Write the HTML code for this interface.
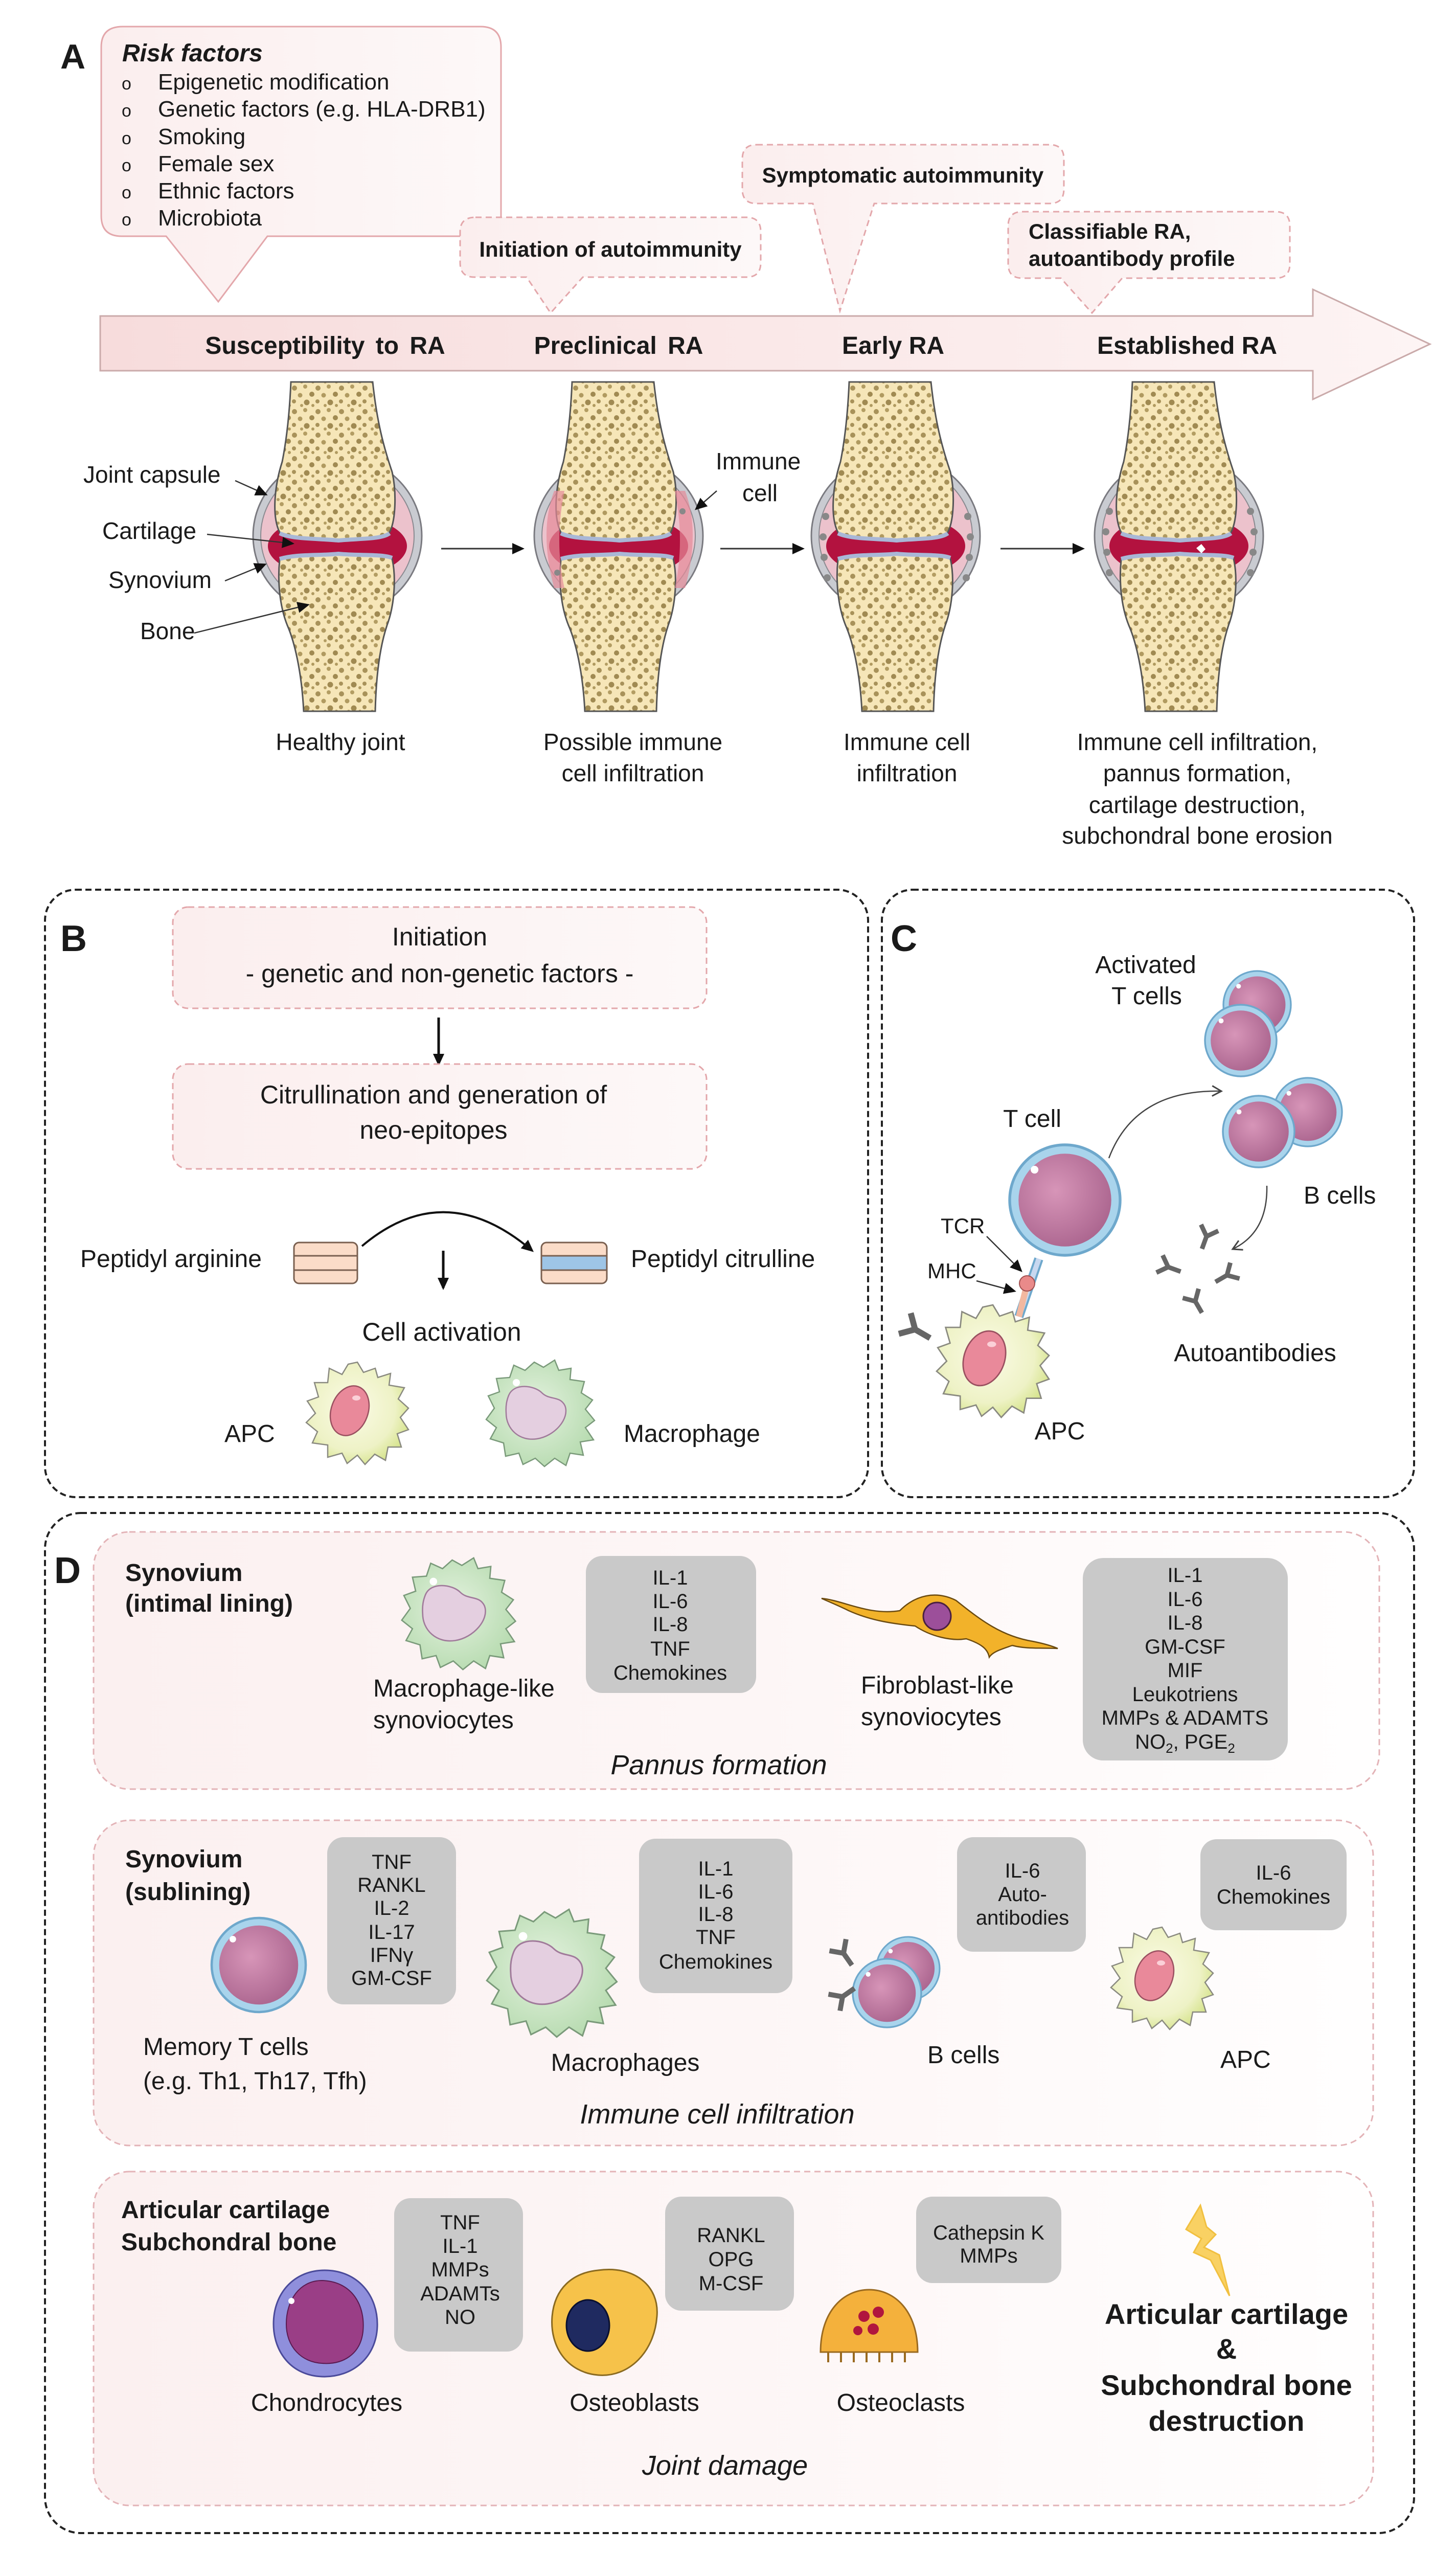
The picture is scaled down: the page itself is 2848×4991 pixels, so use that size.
<!DOCTYPE html>
<html><head><meta charset="utf-8"><style>
html,body{margin:0;padding:0;background:#fff}
svg{display:block}
text{font-family:"Liberation Sans",Arial,sans-serif;fill:#1a1a1a}
.b{font-weight:bold}
.g{font-size:40px;fill:#2a2a2a}
</style></head><body>
<svg width="2848" height="4991" viewBox="0 0 2848 4991" xmlns="http://www.w3.org/2000/svg">
<defs>
<pattern id="st" width="46" height="46" patternUnits="userSpaceOnUse">
<rect width="46" height="46" fill="#f6e6b8"/>
<circle cx="6" cy="8" r="5" fill="#a8925a"/><circle cx="27" cy="5" r="4" fill="#b39d63"/>
<circle cx="40" cy="20" r="5" fill="#a08a52"/><circle cx="17" cy="22" r="4.5" fill="#b09a60"/>
<circle cx="5" cy="34" r="4" fill="#a8925a"/><circle cx="30" cy="36" r="5.5" fill="#a08a52"/>
<circle cx="20" cy="42" r="3" fill="#b39d63"/><circle cx="42" cy="42" r="3" fill="#b09a60"/>
</pattern>
<linearGradient id="arr" x1="0" x2="1"><stop offset="0" stop-color="#f7dcdc"/><stop offset="1" stop-color="#fdf4f4"/></linearGradient>
<linearGradient id="pk" x1="0" x2="1"><stop offset="0" stop-color="#fbeeee"/><stop offset="1" stop-color="#fdf8f8"/></linearGradient>
<linearGradient id="sub" x1="0" x2="1"><stop offset="0" stop-color="#fbf0f0"/><stop offset="0.5" stop-color="#fdf6f6"/><stop offset="1" stop-color="#fffefe"/></linearGradient>
<radialGradient id="nuc" cx="0.4" cy="0.4" r="0.7"><stop offset="0" stop-color="#d795b8"/><stop offset="1" stop-color="#a8628c"/></radialGradient>
<radialGradient id="apcg" cx="0.45" cy="0.45" r="0.6"><stop offset="0" stop-color="#fbfbe6"/><stop offset="0.7" stop-color="#eef2c6"/><stop offset="1" stop-color="#d5e38a"/></radialGradient>
<radialGradient id="macg" cx="0.45" cy="0.45" r="0.6"><stop offset="0" stop-color="#e4f2df"/><stop offset="1" stop-color="#b7dbb0"/></radialGradient>
<marker id="ah" markerWidth="10" markerHeight="10" refX="8" refY="5" orient="auto" markerUnits="userSpaceOnUse" viewBox="0 0 10 10"><path d="M0,0 L10,5 L0,10 z" fill="#222"/></marker>
<marker id="ahb" markerWidth="26" markerHeight="26" refX="20" refY="13" orient="auto" markerUnits="userSpaceOnUse"><path d="M0,2 L24,13 L0,24 z" fill="#111"/></marker>
<marker id="aho" markerWidth="26" markerHeight="26" refX="22" refY="13" orient="auto" markerUnits="userSpaceOnUse"><path d="M4,3 L22,13 L4,23" fill="none" stroke="#444" stroke-width="3"/></marker>

<g id="joint">
<ellipse cx="-2" cy="-25" rx="165" ry="158" fill="#c9cbd1" stroke="#7a7a80" stroke-width="3"/>
<ellipse cx="-2" cy="-25" rx="150" ry="142" fill="#ecc2cc" stroke="#8a8a90" stroke-width="2"/>
<ellipse cx="-2" cy="-5" rx="136" ry="62" fill="#b3123f"/>
<path d="M-93,-326 L67,-326 C75,-250 88,-200 105,-150 C114,-110 112,-55 100,-32 C85,-20 40,-22 0,-18 C-40,-22 -90,-20 -115,-32 C-130,-62 -126,-120 -110,-170 C-100,-220 -95,-280 -93,-326 Z" fill="url(#st)" stroke="#555" stroke-width="3"/>
<path d="M-115,-30 C-90,-18 -40,-20 0,-16 C40,-20 85,-18 100,-30" fill="none" stroke="#a9b7d6" stroke-width="8"/>
<path d="M-115,22 C-80,12 -40,16 0,12 C40,16 85,12 105,20 C113,55 110,110 95,150 C85,180 74,230 72,318 L-68,318 C-72,240 -86,182 -100,150 C-116,110 -119,60 -115,22 Z" fill="url(#st)" stroke="#555" stroke-width="3"/>
<path d="M-115,20 C-80,10 -40,14 0,10 C40,14 85,10 105,18" fill="none" stroke="#a9b7d6" stroke-width="8"/>
</g>

<g id="rcell">
<circle r="1" fill="#a9d4ec" stroke="#6ea8cc" stroke-width="0.05"/>
<circle r="0.84" fill="url(#nuc)"/>
<circle cx="-0.55" cy="-0.55" r="0.07" fill="#fff"/>
</g>

<g id="apc">
<path d="M0,-100 L12,-80 L35,-88 L40,-70 L65,-78 L62,-55 L92,-50 L80,-28 L100,-10 L84,8 L100,32 L78,40 L86,66 L60,66 L55,92 L34,80 L15,100 L0,82 L-20,98 L-30,78 L-58,86 L-58,62 L-88,58 L-78,36 L-100,18 L-82,0 L-98,-24 L-76,-32 L-84,-60 L-58,-60 L-55,-88 L-30,-76 L-18,-96 Z" fill="url(#apcg)" stroke="#8a8a80" stroke-width="2.5"/>
<ellipse cx="-15" cy="-5" rx="36" ry="50" transform="rotate(20 -15 -5)" fill="#e9899a" stroke="#9a5060" stroke-width="2.5"/>
<ellipse cx="-2" cy="-30" rx="8" ry="5" fill="#fbd0d8"/>
</g>

<g id="mac">
<path d="M-10,-100 L8,-90 L30,-104 L38,-84 L62,-88 L60,-66 L88,-62 L82,-40 L104,-26 L90,-8 L108,14 L90,28 L106,52 L80,56 L86,82 L60,78 L52,102 L30,88 L10,104 L-8,88 L-32,100 L-40,78 L-66,84 L-70,58 L-96,50 L-84,28 L-104,12 L-88,-10 L-100,-34 L-78,-42 L-84,-68 L-58,-70 L-50,-94 L-28,-84 Z" fill="url(#macg)" stroke="#7a9a7a" stroke-width="2.5"/>
<path d="M-60,-35 C-50,-60 -10,-55 5,-40 C20,-25 40,-35 50,-15 C60,10 30,45 -5,50 C-40,55 -65,30 -65,0 C-66,-15 -64,-25 -60,-35 Z" fill="#e4cfe0" stroke="#a07a9a" stroke-width="2.5"/>
<circle cx="-45" cy="-60" r="7" fill="#fff"/>
</g>

<g id="ab" fill="none" stroke="#666" stroke-width="9" stroke-linecap="butt">
<path d="M0,0 L0,26 M0,0 L-18,-18 M0,0 L18,-18"/>
</g>
</defs>

<!-- ===== Panel A ===== -->
<text x="118" y="134" class="b" font-size="68">A</text>
<path d="M240,52 L940,52 Q980,52 980,92 L980,422 Q980,462 940,462 L523,462 L427,590 L325,462 L238,462 Q198,462 198,422 L198,92 Q198,52 240,52 Z" fill="url(#pk)" stroke="#e3a7ab" stroke-width="3"/>
<text x="239" y="120" class="b" font-style="italic" font-size="48">Risk factors</text>
<g font-size="44">
<text x="238" y="175" font-size="34">o</text><text x="309" y="175">Epigenetic modification</text>
<text x="238" y="228" font-size="34">o</text><text x="309" y="228">Genetic factors (e.g. HLA-DRB1)</text>
<text x="238" y="282" font-size="34">o</text><text x="309" y="282">Smoking</text>
<text x="238" y="335" font-size="34">o</text><text x="309" y="335">Female sex</text>
<text x="238" y="388" font-size="34">o</text><text x="309" y="388">Ethnic factors</text>
<text x="238" y="441" font-size="34">o</text><text x="309" y="441">Microbiota</text>
</g>

<!-- bubbles -->
<g fill="url(#pk)" stroke="#e3a7ab" stroke-width="3" stroke-dasharray="12 8">
<path d="M930,425 L1460,425 Q1488,425 1488,453 L1488,514 Q1488,542 1460,542 L1140,542 L1077,612 L1030,542 L928,542 Q900,542 900,514 L900,453 Q900,425 930,425 Z"/>
<path d="M1480,283 L2053,283 Q2081,283 2081,311 L2081,370 Q2081,398 2053,398 L1710,398 L1643,608 L1590,398 L1480,398 Q1452,398 1452,370 L1452,311 Q1452,283 1480,283 Z"/>
<path d="M2000,414 L2495,414 Q2523,414 2523,442 L2523,516 Q2523,544 2495,544 L2195,544 L2136,612 L2075,544 L2000,544 Q1972,544 1972,516 L1972,442 Q1972,414 2000,414 Z"/>
</g>
<text x="1194" y="502" class="b" font-size="42" text-anchor="middle">Initiation of autoimmunity</text>
<text x="1766" y="357" class="b" font-size="42" text-anchor="middle">Symptomatic autoimmunity</text>
<text x="2012" y="467" class="b" font-size="42">Classifiable RA,</text>
<text x="2012" y="520" class="b" font-size="42">autoantibody profile</text>

<!-- main arrow -->
<path d="M196,618 L2568,618 L2568,566 L2797,673 L2568,781 L2568,725 L196,725 Z" fill="url(#arr)" stroke="#caaaaa" stroke-width="3"/>
<g class="b" font-size="48" text-anchor="middle" font-weight="bold">
<text x="636" y="692" word-spacing="8">Susceptibility to RA</text>
<text x="1210" y="692" word-spacing="8">Preclinical RA</text>
<text x="1747" y="692">Early RA</text>
<text x="2322" y="692">Established RA</text>
</g>

<!-- joints -->
<use href="#joint" transform="translate(662,1073)"/>
<use href="#joint" transform="translate(1212,1073)"/>
<use href="#joint" transform="translate(1754,1073)"/>
<use href="#joint" transform="translate(2308,1073)"/>
<!-- inflamed extras -->
<g fill="#e68a98" opacity="0.7">
<path d="M1340,960 Q1370,1040 1340,1150 L1320,1150 Q1340,1060 1320,960Z"/>
<path d="M1084,960 Q1054,1040 1084,1150 L1104,1150 Q1084,1060 1104,960Z"/>
</g>
<g fill="#888">
<circle cx="1090" cy="1120" r="6"/><circle cx="1335" cy="1000" r="6"/>
<circle cx="1615" cy="1010" r="7"/><circle cx="1610" cy="1050" r="7"/><circle cx="1612" cy="1090" r="7"/><circle cx="1618" cy="1130" r="7"/>
<circle cx="1893" cy="1010" r="7"/><circle cx="1898" cy="1050" r="7"/><circle cx="1896" cy="1090" r="7"/><circle cx="1890" cy="1130" r="7"/>
<circle cx="2170" cy="1000" r="7"/><circle cx="2163" cy="1040" r="7"/><circle cx="2165" cy="1080" r="7"/><circle cx="2170" cy="1120" r="7"/>
<circle cx="2446" cy="1000" r="7"/><circle cx="2453" cy="1040" r="7"/><circle cx="2451" cy="1080" r="7"/><circle cx="2446" cy="1120" r="7"/>
</g>
<path d="M2340,1072 l10,-8 l8,10 l-8,8z" fill="#fff"/>

<!-- between arrows -->
<g stroke="#333" stroke-width="3" marker-end="url(#ahb)">
<line x1="863" y1="1073" x2="1022" y2="1073"/>
<line x1="1409" y1="1073" x2="1570" y2="1073"/>
<line x1="1957" y1="1073" x2="2118" y2="1073"/>
</g>
<!-- left labels -->
<g font-size="46">
<text x="163" y="944">Joint capsule</text>
<text x="200" y="1054">Cartilage</text>
<text x="212" y="1150">Synovium</text>
<text x="274" y="1250">Bone</text>
<text x="1400" y="918">Immune</text>
<text x="1452" y="980">cell</text>
</g>
<g stroke="#333" stroke-width="2.5" marker-end="url(#ahb)" fill="none">
<line x1="460" y1="940" x2="520" y2="967"/>
<line x1="405" y1="1045" x2="572" y2="1063"/>
<line x1="440" y1="1136" x2="518" y2="1104"/>
<line x1="380" y1="1238" x2="602" y2="1183"/>
<line x1="1402" y1="960" x2="1362" y2="995"/>
</g>
<g font-size="46" text-anchor="middle">
<text x="666" y="1467">Healthy joint</text>
<text x="1238" y="1467">Possible immune</text><text x="1238" y="1528">cell infiltration</text>
<text x="1774" y="1467">Immune cell</text><text x="1774" y="1528">infiltration</text>
<text x="2342" y="1467">Immune cell infiltration,</text><text x="2342" y="1528">pannus formation,</text>
<text x="2342" y="1590">cartilage destruction,</text><text x="2342" y="1650">subchondral bone erosion</text>
</g>

<!-- ===== Panel B ===== -->
<rect x="88" y="1740" width="1610" height="1188" rx="60" fill="none" stroke="#222" stroke-width="4" stroke-dasharray="12 7"/>
<text x="118" y="1860" class="b" font-size="72">B</text>
<rect x="338" y="1774" width="1044" height="198" rx="30" fill="url(#pk)" stroke="#e3a7ab" stroke-width="3" stroke-dasharray="12 8"/>
<text x="860" y="1849" font-size="50" text-anchor="middle">Initiation</text>
<text x="860" y="1921" font-size="50" text-anchor="middle">- genetic and non-genetic factors -</text>
<line x1="858" y1="1990" x2="858" y2="2081" stroke="#111" stroke-width="5" marker-end="url(#ahb)"/>
<rect x="338" y="2081" width="1044" height="205" rx="30" fill="url(#pk)" stroke="#e3a7ab" stroke-width="3" stroke-dasharray="12 8"/>
<text x="848" y="2158" font-size="50" text-anchor="middle">Citrullination and generation of</text>
<text x="848" y="2227" font-size="50" text-anchor="middle">neo-epitopes</text>
<text x="157" y="2478" font-size="48">Peptidyl arginine</text>
<text x="1234" y="2478" font-size="48">Peptidyl citrulline</text>
<g stroke="#7a6050" stroke-width="3">
<rect x="575" y="2430" width="124" height="80" rx="10" fill="#fbdcc8"/>
<line x1="575" y1="2456" x2="699" y2="2456"/><line x1="575" y1="2484" x2="699" y2="2484"/>
<rect x="1059" y="2430" width="128" height="80" rx="10" fill="#fbdcc8"/>
<rect x="1059" y="2456" width="128" height="28" fill="#9ec5e6"/>
</g>
<path d="M708,2437 Q870,2300 1041,2446" fill="none" stroke="#111" stroke-width="4" marker-end="url(#ahb)"/>
<line x1="867" y1="2446" x2="867" y2="2519" stroke="#111" stroke-width="5" marker-end="url(#ahb)"/>
<text x="864" y="2622" font-size="50" text-anchor="middle">Cell activation</text>
<use href="#apc" transform="translate(699,2764)"/>
<use href="#mac" transform="translate(1055,2764)"/>
<text x="439" y="2820" font-size="48">APC</text>
<text x="1220" y="2820" font-size="48">Macrophage</text>

<!-- ===== Panel C ===== -->
<rect x="1725" y="1740" width="1041" height="1188" rx="60" fill="none" stroke="#222" stroke-width="4" stroke-dasharray="12 7"/>
<text x="1742" y="1860" class="b" font-size="72">C</text>
<text x="2241" y="1903" font-size="48" text-anchor="middle">Activated</text>
<text x="2243" y="1964" font-size="48" text-anchor="middle">T cells</text>
<use href="#rcell" transform="translate(2459,1965) scale(66)"/>
<use href="#rcell" transform="translate(2427,2035) scale(70)"/>
<use href="#rcell" transform="translate(2558,2175) scale(67)"/>
<use href="#rcell" transform="translate(2462,2213) scale(70)"/>
<text x="2019" y="2204" font-size="48" text-anchor="middle">T cell</text>
<path d="M2169,2265 Q2220,2130 2389,2134" fill="none" stroke="#444" stroke-width="2.5" marker-end="url(#aho)"/>
<path d="M2478,2319 Q2480,2410 2411,2443" fill="none" stroke="#444" stroke-width="2.5" marker-end="url(#aho)"/>
<line x1="2032" y1="2462" x2="1993" y2="2575" stroke="#6ea8cc" stroke-width="18"/>
<line x1="2032" y1="2462" x2="1993" y2="2575" stroke="#c8d8f0" stroke-width="10"/>
<line x1="2008" y1="2515" x2="1993" y2="2575" stroke="#f2b8a0" stroke-width="12"/>
<use href="#rcell" transform="translate(2083,2347) scale(108)"/>
<use href="#apc" transform="translate(1942,2662) scale(1.1)"/>
<circle cx="2009" cy="2510" r="15" fill="#e98a8a" stroke="#a05050" stroke-width="2"/>
<use href="#ab" transform="translate(1790,2600) rotate(-60) scale(1.3)"/>
<text x="1840" y="2412" font-size="42">TCR</text>
<text x="1814" y="2500" font-size="42">MHC</text>
<g stroke="#333" stroke-width="2.5" marker-end="url(#ahb)">
<line x1="1930" y1="2418" x2="1997" y2="2485"/>
<line x1="1910" y1="2505" x2="1984" y2="2525"/>
</g>
<use href="#ab" transform="translate(2360,2418) rotate(20)"/>
<use href="#ab" transform="translate(2285,2478) rotate(-70)"/>
<use href="#ab" transform="translate(2400,2494) rotate(60)"/>
<use href="#ab" transform="translate(2338,2545) rotate(-30)"/>
<text x="2550" y="2354" font-size="48">B cells</text>
<text x="2455" y="2662" font-size="48" text-anchor="middle">Autoantibodies</text>
<text x="2073" y="2815" font-size="48" text-anchor="middle">APC</text>

<!-- ===== Panel D ===== -->
<rect x="88" y="2959" width="2678" height="1995" rx="70" fill="none" stroke="#222" stroke-width="4" stroke-dasharray="12 7"/>
<text x="106" y="3096" class="b" font-size="72">D</text>
<g fill="url(#sub)" stroke="#e3b3b7" stroke-width="3" stroke-dasharray="12 8">
<rect x="183" y="2996" width="2515" height="503" rx="70"/>
<rect x="183" y="3560" width="2503" height="636" rx="70"/>
<rect x="183" y="4247" width="2503" height="653" rx="70"/>
</g>
<!-- box 1 -->
<text x="245" y="3092" class="b" font-size="48">Synovium</text>
<text x="245" y="3152" class="b" font-size="48">(intimal lining)</text>
<use href="#mac" transform="translate(895,3156) scale(1.05)"/>
<g fill="#c9c9c9">
<rect x="1146" y="3043" width="333" height="268" rx="32"/>
<rect x="2118" y="3047" width="401" height="396" rx="40"/>
</g>
<g class="g" text-anchor="middle">
<text x="1311" y="3099">IL-1</text><text x="1311" y="3145">IL-6</text><text x="1311" y="3190">IL-8</text><text x="1311" y="3238">TNF</text><text x="1311" y="3285">Chemokines</text>
<text x="2318" y="3094">IL-1</text><text x="2318" y="3141">IL-6</text><text x="2318" y="3187">IL-8</text><text x="2318" y="3234">GM-CSF</text><text x="2318" y="3280">MIF</text><text x="2318" y="3327">Leukotriens</text><text x="2318" y="3373">MMPs &amp; ADAMTS</text><text x="2318" y="3420">NO<tspan font-size="26" dy="8">2</tspan><tspan dy="-8">, PGE</tspan><tspan font-size="26" dy="8">2</tspan></text>
</g>
<text x="730" y="3318" font-size="48">Macrophage-like</text>
<text x="730" y="3380" font-size="48">synoviocytes</text>
<path d="M1607,3126 C1650,3130 1700,3160 1760,3150 C1790,3120 1830,3110 1870,3130 C1920,3170 1960,3200 2020,3210 C2045,3215 2060,3220 2069,3224 C2040,3222 2010,3226 1980,3218 C1960,3225 1942,3230 1935,3241 C1932,3225 1920,3215 1890,3205 C1860,3210 1820,3200 1790,3180 C1740,3175 1700,3168 1660,3150 C1640,3140 1620,3132 1607,3126 Z" fill="#f2b22a" stroke="#6a4a10" stroke-width="2.5"/>
<circle cx="1833" cy="3161" r="27" fill="#9c4f9a" stroke="#4a2040" stroke-width="3"/>
<text x="1684" y="3312" font-size="48">Fibroblast-like</text>
<text x="1684" y="3374" font-size="48">synoviocytes</text>
<text x="1406" y="3470" font-size="54" font-style="italic" text-anchor="middle">Pannus formation</text>

<!-- box 2 -->
<text x="245" y="3652" class="b" font-size="48">Synovium</text>
<text x="245" y="3716" class="b" font-size="48">(sublining)</text>
<g fill="#c9c9c9">
<rect x="640" y="3593" width="252" height="327" rx="32"/>
<rect x="1250" y="3596" width="300" height="302" rx="32"/>
<rect x="1872" y="3593" width="252" height="224" rx="32"/>
<rect x="2348" y="3597" width="286" height="178" rx="32"/>
</g>
<g class="g" text-anchor="middle">
<text x="766" y="3655">TNF</text><text x="766" y="3700">RANKL</text><text x="766" y="3745">IL-2</text><text x="766" y="3792">IL-17</text><text x="766" y="3837">IFNγ</text><text x="766" y="3882">GM-CSF</text>
<text x="1400" y="3668">IL-1</text><text x="1400" y="3713">IL-6</text><text x="1400" y="3757">IL-8</text><text x="1400" y="3802">TNF</text><text x="1400" y="3850">Chemokines</text>
<text x="2000" y="3672">IL-6</text><text x="2000" y="3718">Auto-</text><text x="2000" y="3764">antibodies</text>
<text x="2491" y="3676">IL-6</text><text x="2491" y="3723">Chemokines</text>
</g>
<use href="#rcell" transform="translate(506,3843) scale(92)"/>
<use href="#mac" transform="translate(1077,3859) scale(1.2)"/>
<use href="#rcell" transform="translate(1776,3850) scale(62)"/>
<use href="#rcell" transform="translate(1735,3898) scale(67)"/>
<use href="#ab" transform="translate(1650,3820) rotate(-35) scale(1.1)"/>
<use href="#ab" transform="translate(1648,3905) rotate(-125) scale(1.1)"/>
<use href="#apc" transform="translate(2273,3869)"/>
<g font-size="48">
<text x="280" y="4019">Memory T cells</text>
<text x="280" y="4086">(e.g. Th1, Th17, Tfh)</text>
<text x="1223" y="4050" text-anchor="middle">Macrophages</text>
<text x="1814" y="4035">B cells</text>
<text x="2387" y="4044">APC</text>
</g>
<text x="1403" y="4153" font-size="54" font-style="italic" text-anchor="middle">Immune cell infiltration</text>

<!-- box 3 -->
<text x="237" y="4338" class="b" font-size="48">Articular cartilage</text>
<text x="237" y="4401" class="b" font-size="48">Subchondral bone</text>
<g fill="#c9c9c9">
<rect x="771" y="4299" width="252" height="300" rx="32"/>
<rect x="1301" y="4296" width="252" height="223" rx="32"/>
<rect x="1792" y="4296" width="284" height="169" rx="32"/>
</g>
<g class="g" text-anchor="middle">
<text x="900" y="4360">TNF</text><text x="900" y="4406">IL-1</text><text x="900" y="4452">MMPs</text><text x="900" y="4499">ADAMTs</text><text x="900" y="4545">NO</text>
<text x="1430" y="4385">RANKL</text><text x="1430" y="4432">OPG</text><text x="1430" y="4479">M-CSF</text>
<text x="1934" y="4380">Cathepsin K</text><text x="1934" y="4425">MMPs</text>
</g>
<!-- chondrocyte -->
<path d="M635,4440 C700,4440 740,4490 738,4550 C736,4610 690,4650 630,4648 C570,4646 535,4600 535,4545 C535,4485 575,4440 635,4440 Z" fill="#8f8fdc" stroke="#4a4a9a" stroke-width="3"/>
<path d="M630,4460 C690,4462 715,4510 710,4560 C705,4605 670,4625 630,4622 C590,4620 560,4590 560,4545 C560,4500 585,4460 630,4460 Z" fill="#9a3e86" stroke="#5a1a50" stroke-width="2"/>
<circle cx="570" cy="4500" r="6" fill="#fff"/>
<!-- osteoblast -->
<path d="M1170,4440 C1240,4430 1290,4470 1285,4530 C1280,4600 1230,4650 1170,4645 C1110,4640 1075,4590 1080,4530 C1085,4475 1120,4445 1170,4440 Z" fill="#f6c24a" stroke="#8a6a20" stroke-width="3"/>
<ellipse cx="1150" cy="4548" rx="42" ry="50" fill="#1f2a60" stroke="#0a1030" stroke-width="3"/>
<!-- osteoclast -->
<path d="M1605,4600 C1605,4520 1650,4478 1700,4478 C1750,4478 1795,4520 1795,4600 Z" fill="#f4b13c" stroke="#9a6a20" stroke-width="3"/>
<g stroke="#9a6a20" stroke-width="4"><line x1="1620" y1="4600" x2="1620" y2="4620"/><line x1="1645" y1="4600" x2="1645" y2="4620"/><line x1="1670" y1="4600" x2="1670" y2="4620"/><line x1="1695" y1="4600" x2="1695" y2="4620"/><line x1="1720" y1="4600" x2="1720" y2="4620"/><line x1="1745" y1="4600" x2="1745" y2="4620"/><line x1="1770" y1="4600" x2="1770" y2="4620"/></g>
<g fill="#b0163e"><circle cx="1690" cy="4530" r="11"/><circle cx="1718" cy="4522" r="11"/><circle cx="1708" cy="4555" r="11"/><circle cx="1678" cy="4558" r="9"/></g>
<g font-size="48" text-anchor="middle">
<text x="639" y="4715">Chondrocytes</text>
<text x="1241" y="4715">Osteoblasts</text>
<text x="1762" y="4715">Osteoclasts</text>
</g>
<!-- lightning -->
<path d="M2348,4313 L2320,4360 L2350,4378 L2335,4405 L2368,4420 L2405,4490 L2385,4410 L2355,4395 L2378,4370 L2360,4355 Z" fill="#f9d163" stroke="#f1c040" stroke-width="3"/>
<g class="b" font-size="56" text-anchor="middle" font-weight="bold">
<text x="2399" y="4545">Articular cartilage</text>
<text x="2399" y="4613">&amp;</text>
<text x="2399" y="4684">Subchondral bone</text>
<text x="2399" y="4754">destruction</text>
</g>
<text x="1418" y="4840" font-size="54" font-style="italic" text-anchor="middle">Joint damage</text>
</svg>
</body></html>
